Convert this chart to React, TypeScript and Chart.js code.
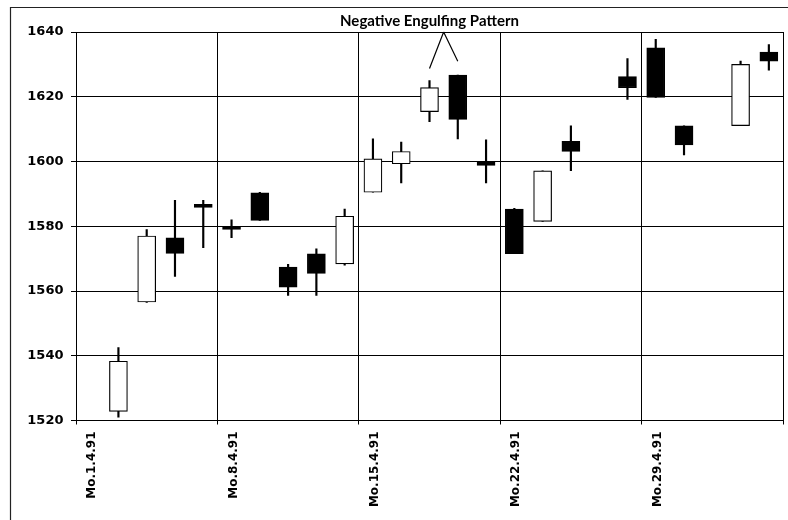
import React, { useEffect, useRef } from 'react';
import { Chart, registerables } from 'chart.js';

Chart.register(...registerables);

// Trading days (German notation), April 1991 – early May 1991
const categories = [
  'Mo.1.4.91', 'Di.2.4.91', 'Mi.3.4.91', 'Do.4.4.91', 'Fr.5.4.91',
  'Mo.8.4.91', 'Di.9.4.91', 'Mi.10.4.91', 'Do.11.4.91', 'Fr.12.4.91',
  'Mo.15.4.91', 'Di.16.4.91', 'Mi.17.4.91', 'Do.18.4.91', 'Fr.19.4.91',
  'Mo.22.4.91', 'Di.23.4.91', 'Mi.24.4.91', 'Do.25.4.91', 'Fr.26.4.91',
  'Mo.29.4.91', 'Di.30.4.91', 'Mi.1.5.91', 'Do.2.5.91', 'Fr.3.5.91',
];

const opens: (number | null)[] = [
  null, 1522.8, 1556.6, 1576.4, 1586.8,
  1580.0, 1590.3, 1567.4, 1571.5, 1568.4,
  1590.5, 1599.3, 1615.4, 1626.7, 1599.8,
  1585.3, 1581.5, 1606.2, null, 1626.2,
  1635.1, 1611.0, null, 1611.1, 1633.8,
];
const highs: (number | null)[] = [
  null, 1542.5, 1579.0, 1588.0, 1588.0,
  1582.0, 1590.5, 1568.2, 1573.0, 1585.3,
  1607.0, 1606.0, 1625.0, 1626.7, 1606.7,
  1585.5, 1597.1, 1611.0, null, 1631.8,
  1637.7, 1611.0, null, 1631.0, 1636.1,
];
const lows: (number | null)[] = [
  null, 1521.0, 1556.5, 1564.5, 1573.4,
  1576.5, 1581.8, 1558.6, 1558.6, 1568.0,
  1590.5, 1593.4, 1612.3, 1607.0, 1593.4,
  1571.5, 1581.5, 1597.2, null, 1619.2,
  1619.8, 1602.0, null, 1611.1, 1628.2,
];
const closes: (number | null)[] = [
  null, 1538.3, 1577.0, 1571.6, 1585.8,
  1579.0, 1581.8, 1561.2, 1565.4, 1583.1,
  1600.8, 1603.1, 1622.8, 1613.0, 1598.8,
  1571.5, 1597.1, 1603.1, null, 1622.8,
  1619.8, 1605.1, null, 1630.0, 1631.0,
];

const yMin = 1520;
const yMax = 1640;
const yStep = 20;

const annotationText = 'Negative Engulfing Pattern';
const annotationIdx = [12, 13];
const annotationEnd = [1628.7, 1631.0];

export default function App() {
  const ref = useRef<HTMLCanvasElement | null>(null);

  useEffect(() => {
    if (!ref.current) return;
    const bodies = opens.map((o, i) => (o == null || closes[i] == null ? null : [o, closes[i]]));
    const wicks = lows.map((l, i) => (l == null || highs[i] == null ? null : [l, highs[i]]));
    const isUp = (i: number) => (closes[i] as number) > (opens[i] as number);

    const decor = {
      id: 'decor',
      beforeDraw(chart: any) {
        const c = chart.ctx;
        c.save();
        c.fillStyle = '#fff';
        c.fillRect(0, 0, chart.width, chart.height);
        c.strokeStyle = '#222';
        c.lineWidth = 1.2;
        c.beginPath();
        c.moveTo(10.5, chart.height + 5);
        c.lineTo(10.5, 7.5);
        c.lineTo(chart.width + 5, 7.5);
        c.stroke();
        c.restore();
      },
      afterDraw(chart: any) {
        const x = chart.scales.x;
        const y = chart.scales.y;
        const c = chart.ctx;
        const ax = (x.getPixelForValue(annotationIdx[0]) + x.getPixelForValue(annotationIdx[1])) / 2;
        const ay = y.getPixelForValue(yMax);
        c.save();
        c.strokeStyle = '#000';
        c.lineWidth = 1.2;
        c.beginPath();
        annotationIdx.forEach((idx, k) => {
          c.moveTo(ax, ay);
          c.lineTo(x.getPixelForValue(idx), y.getPixelForValue(annotationEnd[k]));
        });
        c.stroke();
        c.restore();
      },
    };

    const gridColor = (ctx: any) =>
      ctx.index === undefined || ctx.index % 5 === 0 ? '#000' : 'rgba(0,0,0,0)';

    const chart = new Chart(ref.current, {
      type: 'bar',
      data: {
        labels: categories,
        datasets: [
          {
            label: 'body',
            data: bodies as any,
            grouped: false,
            order: 0,
            barThickness: 18,
            borderWidth: 1.2,
            borderSkipped: false,
            borderColor: '#000',
            backgroundColor: bodies.map((b, i) => (b == null ? '#000' : isUp(i) ? '#fff' : '#000')),
          } as any,
          {
            label: 'wick',
            data: wicks as any,
            grouped: false,
            order: 1,
            barThickness: 1.5,
            borderWidth: 0,
            backgroundColor: '#000',
          } as any,
        ],
      },
      options: {
        animation: false,
        responsive: true,
        maintainAspectRatio: false,
        layout: { padding: { top: 0, left: 0, right: 5, bottom: 0 } },
        plugins: {
          legend: { display: false },
          tooltip: { enabled: false },
          title: {
            display: true,
            text: annotationText,
            fullSize: false,
            color: '#000',
            font: { family: 'Lato', size: 15, weight: 'bold', lineHeight: 1.2 },
            padding: { top: 12.5, bottom: 1.5 },
          },
        },
        scales: {
          x: {
            type: 'category',
            offset: true,
            grid: {
              offset: true,
              color: gridColor,
              lineWidth: 1,
              drawTicks: true,
              tickLength: 4,
            },
            border: { color: '#000', width: 1 },
            ticks: {
              autoSkip: false,
              maxRotation: 90,
              minRotation: 90,
              padding: 7,
              labelOffset: 2,
              color: '#000',
              font: { family: 'DejaVu Sans', size: 12, weight: 'bold' },
              callback: (_v: any, i: number) => (i % 5 === 0 ? categories[i] : ''),
            },
            afterFit: (s: any) => {
              s.height = 99.5;
              s.paddingLeft = 0;
              s.paddingRight = 0;
            },
          },
          y: {
            min: yMin,
            max: yMax,
            grid: { color: '#000', lineWidth: 1, tickLength: 5 },
            border: { color: '#000', width: 1 },
            ticks: {
              stepSize: yStep,
              padding: 7.5,
              color: '#000',
              font: { family: 'DejaVu Sans', size: 13, weight: 'bold' },
              callback: (v: any) => String(v),
            },
            afterFit: (s: any) => {
              s.width = 76;
            },
          },
        },
      },
      plugins: [decor],
    });
    return () => chart.destroy();
  }, []);

  return (
    <div style={{ position: 'absolute', left: 0, top: 0, width: 788, height: 520 }}>
      <canvas ref={ref} />
    </div>
  );
}
